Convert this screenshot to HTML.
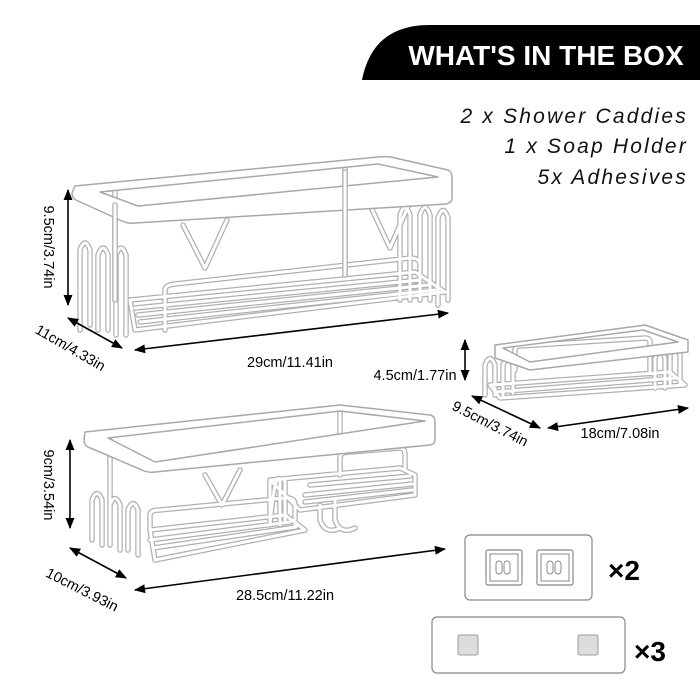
<!DOCTYPE html>
<html><head><meta charset="utf-8"><style>
html,body{margin:0;padding:0;background:#fff;width:700px;height:700px;overflow:hidden}
svg{display:block}
text{font-family:"Liberation Sans",sans-serif}
.w1{fill:none;stroke:#b0b0b0;stroke-width:5.5;stroke-linejoin:round;stroke-linecap:round}
.w2{fill:none;stroke:#fff;stroke-width:3;stroke-linejoin:round;stroke-linecap:round}
.rim{fill:#fff;stroke:#a8a8a8;stroke-width:1.5;stroke-linejoin:round}
.ar{stroke:#000;stroke-width:1.6;fill:none}
.lb{font-size:14.5px;fill:#000}
</style></head><body>
<svg width="700" height="700" viewBox="0 0 700 700" xmlns="http://www.w3.org/2000/svg">
<defs>
<marker id="ah" viewBox="0 0 10 10" refX="9" refY="5" markerWidth="7" markerHeight="7" orient="auto-start-reverse"><path d="M0,1 L10,5 L0,9 z" fill="#000"/></marker>
<g id="cad1">
<path d="M80,330 V250 Q85,236 90,250 V325 M98,330 V255 Q103,241 108,255 V330 M116,335 V255 Q121,241 126,255 V335 M400,300 V215 Q405,200 410,215 V300 M420,300 V215 Q425,200 430,215 V300 M438,305 V218 Q443,203 448,218 V300 M115,190 V300 M345,165 V275 M183,225 L205,268 L227,220 M370,205 L390,248 L410,202 M130,300 L415,272 L445,292 L135,330 Z M135,308 L420,280 M138,315 L428,285 M140,322 L435,290 M165,330 V290 Q165,285 175,284 L410,258 Q420,258 420,265 V290"/>
</g>
<g id="cad2">
<path d="M92,540 V500 Q97,487 102,500 V545 M110,545 V505 Q115,492 120,505 V550 M128,550 V510 Q133,497 138,510 V555 M110,440 V540 M340,412 V470 M205,475 L222,505 L240,470 M150,530 L285,515 L305,530 L155,560 Z M150,540 L290,522 M153,548 L296,527 M150,530 V515 Q150,510 160,510 L285,498 Q295,497 295,505 V525 M270,480 V525 Q275,470 280,480 V525 M285,480 V520 M270,480 L400,468 L415,475 L415,495 L300,510 Z M310,485 L410,476 M305,495 L412,484 M305,502 L412,490 M320,505 V520 Q325,535 340,528 M335,500 V520 Q340,535 355,528 M340,475 V458 Q340,452 350,452 L400,448 Q405,448 405,455 V470"/>
</g>
<g id="soap">
<path d="M485,395 V365 Q490,352 495,365 V395 M503,395 V365 Q508,352 513,365 V393 M670,385 V355 Q675,342 680,355 V385 M655,388 V358 Q660,345 665,358 V388 M490,385 L670,372 L685,385 L500,398 Z M495,392 L676,378 M515,370 V350 Q515,346 520,346 L645,338 Q650,338 650,342 V372"/>
</g>
</defs>

<path d="M362,80 C368,50 385,25 430,25 L700,25 L700,80 Z" fill="#000"/>
<text x="546" y="65" text-anchor="middle" font-size="28" font-weight="bold" fill="#fff">WHAT'S IN THE BOX</text>

<text x="688" y="123" text-anchor="end" font-size="21" font-style="italic" letter-spacing="2.2" fill="#111">2 x Shower Caddies</text>
<text x="688" y="153" text-anchor="end" font-size="21" font-style="italic" letter-spacing="2.2" fill="#111">1 x Soap Holder</text>
<text x="688" y="184" text-anchor="end" font-size="21" font-style="italic" letter-spacing="2.2" fill="#111">5x Adhesives</text>

<use href="#cad1" class="w1"/><use href="#cad1" class="w2"/>
<path class="rim" fill-rule="evenodd" d="M75,186 L378,157 Q388,156 395,158 L448,170 Q452,172 452,178 L452,198 Q452,203 446,204 L135,223 Q128,224 122,221 L76,200 Q72,198 72,193 Z M100,192 L378,164 L438,177 L138,206 Z"/>
<path d="M115,205 V300 M345,172 V275" class="w1"/><path d="M115,205 V300 M345,172 V275" class="w2"/>

<line class="ar" x1="68" y1="190" x2="68" y2="305" marker-start="url(#ah)" marker-end="url(#ah)"/>
<text class="lb" transform="translate(44,247) rotate(90)" text-anchor="middle">9.5cm/3.74in</text>
<line class="ar" x1="68" y1="318" x2="122" y2="348" marker-start="url(#ah)" marker-end="url(#ah)"/>
<text class="lb" transform="translate(68,352) rotate(30)" text-anchor="middle">11cm/4.33in</text>
<line class="ar" x1="135" y1="350" x2="448" y2="313" marker-start="url(#ah)" marker-end="url(#ah)"/>
<text class="lb" x="290" y="367" text-anchor="middle">29cm/11.41in</text>

<use href="#soap" class="w1"/><use href="#soap" class="w2"/>
<path class="rim" fill-rule="evenodd" d="M495,345 L645,325 L688,340 L688,352 L530,370 L495,358 Z M503,348 L643,330 L678,342 L530,362 Z"/>
<line class="ar" x1="465" y1="340" x2="465" y2="380" marker-start="url(#ah)" marker-end="url(#ah)"/>
<text class="lb" x="415" y="380" text-anchor="middle">4.5cm/1.77in</text>
<line class="ar" x1="472" y1="396" x2="540" y2="428" marker-start="url(#ah)" marker-end="url(#ah)"/>
<text class="lb" transform="translate(488,428) rotate(27)" text-anchor="middle">9.5cm/3.74in</text>
<line class="ar" x1="548" y1="428" x2="688" y2="408" marker-start="url(#ah)" marker-end="url(#ah)"/>
<text class="lb" x="620" y="438" text-anchor="middle">18cm/7.08in</text>

<use href="#cad2" class="w1"/><use href="#cad2" class="w2"/>
<path class="rim" fill-rule="evenodd" d="M85,432 L340,405 L430,415 Q435,416 435,422 L435,440 Q435,444 430,445 L155,472 Q148,473 142,470 L88,447 Q84,445 84,440 Z M108,438 L340,411 L425,421 L155,462 Z"/>
<line class="ar" x1="70" y1="440" x2="70" y2="528" marker-start="url(#ah)" marker-end="url(#ah)"/>
<text class="lb" transform="translate(44,485) rotate(90)" text-anchor="middle">9cm/3.54in</text>
<line class="ar" x1="70" y1="548" x2="126" y2="578" marker-start="url(#ah)" marker-end="url(#ah)"/>
<text class="lb" transform="translate(80,594) rotate(27)" text-anchor="middle">10cm/3.93in</text>
<line class="ar" x1="135" y1="590" x2="445" y2="549" marker-start="url(#ah)" marker-end="url(#ah)"/>
<text class="lb" x="285" y="600" text-anchor="middle">28.5cm/11.22in</text>

<rect x="465" y="535" width="127" height="65" rx="5" fill="#fff" stroke="#888" stroke-width="1.2"/>
<rect x="486" y="550" width="36" height="35" rx="2" fill="#fff" stroke="#888" stroke-width="1.2"/>
<rect x="490" y="554" width="28" height="27" fill="#fff" stroke="#888" stroke-width="1"/>
<rect x="537" y="550" width="36" height="35" rx="2" fill="#fff" stroke="#888" stroke-width="1.2"/>
<rect x="541" y="554" width="28" height="27" fill="#fff" stroke="#888" stroke-width="1"/>
<rect x="496" y="561" width="6" height="13" rx="3" fill="none" stroke="#888"/><rect x="504" y="561" width="6" height="13" rx="3" fill="none" stroke="#888"/>
<rect x="547" y="561" width="6" height="13" rx="3" fill="none" stroke="#888"/><rect x="555" y="561" width="6" height="13" rx="3" fill="none" stroke="#888"/>
<text x="608" y="580" font-size="28" font-weight="bold" fill="#000">×2</text>
<rect x="432" y="617" width="193" height="56" rx="5" fill="#fff" stroke="#888" stroke-width="1.2"/>
<rect x="458" y="635" width="20" height="20" rx="2" fill="#ddd" stroke="#999"/>
<rect x="578" y="635" width="20" height="20" rx="2" fill="#ddd" stroke="#999"/>
<text x="634" y="661" font-size="28" font-weight="bold" fill="#000">×3</text>
</svg>
</body></html>
